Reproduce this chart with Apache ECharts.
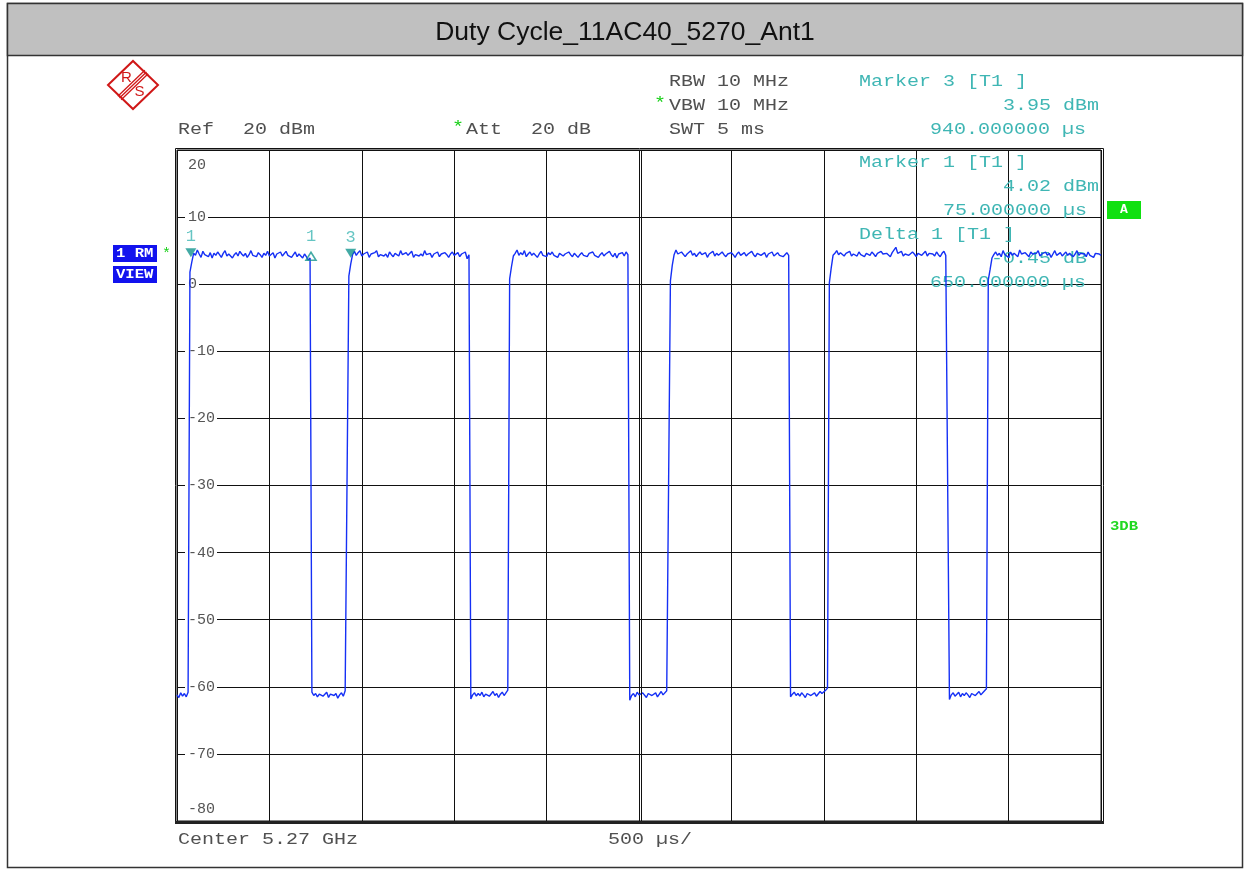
<!DOCTYPE html>
<html><head><meta charset="utf-8">
<script src="https://cdn.jsdelivr.net/npm/echarts@6/dist/echarts.min.js"></script>
<style>html,body{margin:0;padding:0;background:#fff;}#c{width:1245px;height:869px;}</style>
</head><body><div id="c"></div>
<script>
// ---------- data ----------
const TITLE = 'Duty Cycle_11AC40_5270_Ant1';
const STEP_US = 10;            // sweep 5 ms over 501 trace points
const xMin = 0, xMax = 5000, xStep = 500;
const yTicks = [20, 10, 0, -10, -20, -30, -40, -50, -60, -70, -80];
const yTickLabels = ['20', '10', '0', '-10', '-20', '-30', '-40', '-50', '-60', '-70', '-80'];

// trace segments (dBm), consecutive sweep points
const off0 = [-61.2, -61.6, -60.9, -61.4, -61.0, -61.5, -60.8];
const on1 = [1.8, 3.3, 4.6, 4.3, 5.1, 4.5, 4.0, 4.9, 4.4, 4.6,
  4.1, 4.7, 3.9, 4.6, 4.3, 4.8, 4.4, 4.0, 4.6, 5.0,
  4.2, 4.5, 4.3, 3.9, 4.4, 4.7, 4.2, 4.9, 4.5, 4.2,
  4.6, 4.0, 4.4, 5.0, 4.3, 4.5, 4.1, 4.7, 4.4, 4.0,
  4.6, 4.3, 4.9, 4.2, 4.4, 4.7, 3.9, 4.5, 4.3, 4.8,
  4.2, 4.4, 4.9, 4.3, 4.5, 4.0, 4.4, 4.8, 4.1, 4.5,
  4.3, 3.9, 4.5, 4.1, 3.6, 3.9];
const off1 = [-60.8, -61.3, -61.0, -61.5, -61.1, -60.9, -61.4, -61.2, -60.8, -61.6,
  -61.1, -60.9, -61.3, -61.0, -61.7, -61.2, -60.9, -61.4, -60.6, -60.4];
const on2 = [1.2, 3.0, 4.4, 4.9, 4.3, 4.7, 5.0, 4.2, 4.5, 4.4,
  4.8, 4.0, 4.5, 4.3, 4.7, 5.0, 4.1, 4.4, 4.6, 4.2,
  4.5, 4.0, 4.8, 4.4, 4.1, 4.6, 4.5, 4.2, 5.0, 4.4,
  4.2, 4.7, 4.3, 4.5, 4.9, 4.0, 4.4, 4.6, 4.2, 4.5,
  4.2, 5.0, 4.4, 4.3, 4.6, 4.0, 4.5, 4.4, 4.8, 4.1,
  4.5, 4.3, 4.7, 4.4, 4.0, 4.5, 4.8, 4.3, 4.4, 4.7,
  4.1, 4.5, 4.3, 4.8, 3.8, 4.4];
const off2 = [-61.8, -61.2, -60.9, -61.4, -61.0, -61.3, -60.8, -61.5, -61.1, -60.9,
  -61.4, -61.2, -60.7, -61.3, -61.0, -61.6, -61.1, -60.8, -61.3, -60.9, -60.5];
const on3 = [0.8, 2.6, 4.2, 4.6, 5.1, 4.3, 4.7, 4.4, 5.0, 4.1,
  4.5, 4.8, 4.3, 4.6, 4.4, 4.0, 4.5, 4.9, 4.3, 4.5,
  4.1, 4.7, 4.4, 4.8, 4.3, 4.5, 4.0, 4.6, 4.4, 4.2,
  4.5, 4.3, 4.8, 4.4, 4.1, 4.6, 4.5, 4.0, 4.4, 4.7,
  4.3, 4.5, 4.1, 4.6, 4.4, 4.8, 4.3, 4.5, 4.0, 4.4,
  4.7, 4.2, 4.5, 4.3, 4.9, 4.4, 4.1, 4.6, 3.9, 4.5,
  4.3, 4.7, 4.2, 4.8, 4.4];
const off3 = [-62.0, -61.3, -61.0, -61.5, -60.8, -61.2, -61.4, -60.9, -61.1, -61.6,
  -61.0, -60.8, -61.3, -61.2, -60.9, -61.5, -61.1, -60.7, -61.2, -61.0, -60.6, -60.8];
const on4 = [0.5, 2.8, 4.4, 5.1, 4.5, 4.3, 4.8, 4.6, 4.1, 4.5,
  4.4, 5.0, 4.3, 4.6, 4.1, 4.5, 4.8, 4.4, 4.3, 4.7,
  4.0, 4.5, 4.4, 4.9, 4.2, 4.6, 4.3, 4.5, 4.8, 4.4,
  4.1, 4.5, 4.3, 4.7, 4.4, 4.0, 4.5, 4.8, 4.3, 4.4,
  4.7, 4.2, 4.5, 4.3, 4.9, 4.4, 4.1, 4.6, 4.5, 4.3,
  4.4, 4.7, 4.0, 4.5, 4.3, 4.8, 4.2, 4.4, 4.7, 4.3,
  4.5, 4.1, 4.4, 4.7, 4.3];
const off4 = [-61.5, -61.1, -60.8, -61.3, -61.0, -61.4, -60.9, -61.2, -61.6, -61.0,
  -60.8, -61.3, -61.1, -60.9, -61.4, -61.2, -60.7, -61.0, -60.8, -60.5, -60.2];
const on5 = [0.2, 2.4, 4.3, 4.6, 5.0, 4.4, 4.7, 4.5, 4.2, 4.6,
  4.4, 4.9, 4.2, 4.5, 4.6, 4.2, 4.8, 4.4, 4.5, 4.1,
  4.6, 4.4, 4.3, 4.8, 4.5, 4.1, 4.6, 4.4, 4.9, 4.5,
  4.3, 4.6, 4.4, 4.1, 4.7, 4.5, 5.5, 4.6, 4.4, 4.9,
  4.2, 4.5, 4.7, 4.3, 4.4, 4.8, 4.5, 4.1, 4.6, 4.4,
  4.3, 4.5, 4.9, 4.2, 4.6, 4.4, 4.5, 4.2, 4.8, 4.4,
  4.1, 4.6, 4.9, 4.3, 4.5];
const off5 = [-61.9, -61.2, -60.9, -61.4, -61.1, -60.8, -61.5, -61.0, -61.3, -60.9,
  -61.2, -61.6, -61.0, -60.8, -61.3, -61.1, -60.7, -61.2, -60.9, -60.6, -60.3];
const on6 = [0.6, 2.2, 3.9, 4.4, 4.8, 4.3, 4.6, 4.1, 5.0, 4.4,
  4.5, 4.0, 4.8, 4.3, 4.6, 4.4, 4.1, 5.1, 4.5, 4.3,
  4.7, 4.4, 4.1, 4.8, 4.5, 4.3, 4.6, 5.0, 4.2, 4.5,
  4.4, 4.8, 4.3, 4.6, 4.0, 4.5, 5.0, 4.3, 4.4, 4.7,
  4.2, 4.5, 4.8, 4.3, 4.6, 4.4, 4.1, 4.5, 5.0, 4.3,
  4.6, 4.4, 4.5, 4.1, 4.8, 4.3, 4.5, 4.0, 4.6, 4.4,
  4.5, 4.3];

// markers
const markerNames = ['1', '3'];
const markerTimes = [75, 940];
const markerLevels = [4.02, 3.95];
const deltaName = '1';
const deltaTime = 725;     // 75 + 650 us
const deltaLevel = 3.57;   // 4.02 - 0.45 dB

// ---------- build ----------
const segments = [off0, on1, off1, on2, off2, on3, off3, on4, off4, on5, off5, on6];
const trace = [].concat(...segments).map((v, i) => [i * STEP_US, v]);

const MONO = '"Liberation Mono", "DejaVu Sans Mono", monospace';
const GREY = '#505050';
const TEAL = '#3fb6b4';
const TEAL_D = '#14958f';
const BLUE = '#1530f5';
const GRID = '#111111';

const chart = echarts.init(document.getElementById('c'), null, {renderer: 'canvas'});
chart.setOption({
  animation: false,
  backgroundColor: '#ffffff',
  grid: {left: 177, top: 150, width: 924, height: 671, show: true, borderColor: GRID, borderWidth: 1, backgroundColor: 'rgba(0,0,0,0)'},
  xAxis: {
    type: 'value', min: xMin, max: xMax, interval: xStep,
    axisLine: {show: false}, axisTick: {show: false}, axisLabel: {show: false},
    splitLine: {show: true, lineStyle: {color: GRID, width: 1}}
  },
  yAxis: {
    type: 'value', min: yTicks[yTicks.length - 1], max: yTicks[0], interval: 10,
    axisLine: {show: false}, axisTick: {show: false},
    splitLine: {show: true, lineStyle: {color: GRID, width: 1}},
    axisLabel: {
      inside: true, margin: 8, showMinLabel: true, showMaxLabel: true,
      fontFamily: MONO, fontSize: 15, color: '#555',
      formatter: function (v) {
        const i = yTicks.indexOf(v);
        if (i < 0) return '';
        const s = yTickLabels[i];
        if (i === 0) return '{t|' + s + '}';
        if (i === yTicks.length - 1) return '{b|' + s + '}';
        return '{m|' + s + '}';
      },
      rich: {
        t: {fontFamily: MONO, fontSize: 15, color: '#555', padding: [30, 0, 0, 3]},
        b: {fontFamily: MONO, fontSize: 15, color: '#555', padding: [0, 0, 24, 3]},
        m: {fontFamily: MONO, fontSize: 15, color: '#555', backgroundColor: '#ffffff', padding: [1, 2, 1, 3]}
      }
    }
  },
  series: [
    {
      type: 'line', data: trace, showSymbol: false, symbol: 'none', z: 3,
      lineStyle: {color: BLUE, width: 1.4}, sampling: null
    },
    {
      type: 'scatter', z: 4,
      data: markerNames.map((n, i) => ({name: n, value: [markerTimes[i], markerLevels[i]]})),
      symbol: 'triangle', symbolRotate: 180, symbolSize: [11, 9], symbolOffset: [0, -4.5],
      itemStyle: {color: TEAL_D},
      label: {show: true, position: 'top', distance: 3, formatter: '{b}', color: TEAL, fontFamily: MONO, fontSize: 17}
    },
    {
      type: 'scatter', z: 4,
      data: [{name: deltaName, value: [deltaTime, deltaLevel]}],
      symbol: 'triangle', symbolSize: [10, 8], symbolOffset: [0, -4],
      itemStyle: {color: 'rgba(255,255,255,0)', borderColor: TEAL_D, borderWidth: 1.6},
      label: {show: true, position: 'top', distance: 7, formatter: '{b}', color: TEAL, fontFamily: MONO, fontSize: 17}
    }
  ]
});

function txt(s, x, y, color, z, opt) {
  opt = opt || {};
  return {
    type: 'text', x: x, y: y, scaleX: opt.scaleX || 1.25, z: z || 5,
    style: {text: s, font: (opt.weight || 'normal') + ' ' + (opt.size || 16) + 'px ' + MONO, fill: color,
      textAlign: opt.align || 'left', textVerticalAlign: 'middle'}
  };
}

const cx = chart.convertToPixel({xAxisIndex: 0}, (xMin + xMax) / 2);
const g = [];
// outer page frame and title bar
g.push({type: 'rect', z: 0, shape: {x: 7.5, y: 3.5, width: 1235, height: 864}, style: {fill: 'none', stroke: '#333', lineWidth: 1.5}});
g.push({type: 'rect', z: 0, shape: {x: 7.5, y: 3.5, width: 1235, height: 52}, style: {fill: '#c0c0c0', stroke: '#333', lineWidth: 1.5}});
g.push({type: 'text', x: 625, y: 33, z: 5, style: {text: TITLE, font: '26.5px "Liberation Sans", Arial, sans-serif', fill: '#111', textAlign: 'center', textVerticalAlign: 'middle'}});
// plot double frame
g.push({type: 'rect', z: 6, shape: {x: 175.5, y: 148.5, width: 928, height: 674}, style: {fill: 'none', stroke: '#111', lineWidth: 1}});
g.push({type: 'line', z: 6, shape: {x1: 175, y1: 822.5, x2: 1104, y2: 822.5}, style: {stroke: '#222', lineWidth: 3}});
g.push({type: 'line', z: 6, shape: {x1: cx + 2.5, y1: 150, x2: cx + 2.5, y2: 821}, style: {stroke: GRID, lineWidth: 1}});
// R&S logo
g.push({type: 'polygon', z: 5, shape: {points: [[108, 85], [133, 61], [158, 85], [133, 109]]}, style: {fill: 'none', stroke: '#d01818', lineWidth: 2}});
[-2.4, 0, 2.4].forEach(function (d) {
  g.push({type: 'line', z: 5, shape: {x1: 119.5 + d * 0.69, y1: 98 + d * 0.72, x2: 146.5 + d * 0.69, y2: 72 + d * 0.72}, style: {stroke: '#d01818', lineWidth: 1.3}});
});
g.push({type: 'text', x: 126.5, y: 78, z: 5, style: {text: 'R', font: '15px "Liberation Sans", sans-serif', fill: '#d01818', textAlign: 'center', textVerticalAlign: 'middle'}});
g.push({type: 'text', x: 139.5, y: 92, z: 5, style: {text: 'S', font: '15px "Liberation Sans", sans-serif', fill: '#d01818', textAlign: 'center', textVerticalAlign: 'middle'}});
// header texts
g.push(txt('Ref', 178, 130, GREY));
g.push(txt('20 dBm', 243, 130, GREY));
g.push(txt('*', 452, 128, '#18d018'));
g.push(txt('Att', 466, 130, GREY));
g.push(txt('20 dB', 531, 130, GREY));
g.push(txt('RBW 10 MHz', 669, 82, GREY));
g.push(txt('*', 654, 104, '#18d018'));
g.push(txt('VBW 10 MHz', 669, 106, GREY));
g.push(txt('SWT 5 ms', 669, 130, GREY));
g.push(txt('Marker 3 [T1 ]', 859, 82, TEAL));
g.push(txt('3.95 dBm', 1003, 106, TEAL));
g.push(txt('940.000000 µs', 930, 130, TEAL));
// in-plot marker info (under the trace)
g.push(txt('Marker 1 [T1 ]', 859, 163, TEAL, 1));
g.push(txt('4.02 dBm', 1003, 187, TEAL, 1));
g.push(txt('75.000000 µs', 943, 211, TEAL, 1));
g.push(txt('Delta 1 [T1 ]', 859, 235, TEAL, 1));
g.push(txt('-0.45 dB', 991, 259, TEAL, 1));
g.push(txt('650.000000 µs', 930, 283, TEAL, 1));
// footer
g.push(txt('Center 5.27 GHz', 178, 840, GREY));
g.push(txt('500 µs/', 608, 840, GREY));
// side annotations
g.push({type: 'rect', z: 5, shape: {x: 113, y: 245, width: 44, height: 17}, style: {fill: '#1212ee'}});
g.push(txt('1 RM', 116, 254, '#ffffff', 6, {weight: 'bold', size: 13, scaleX: 1.2}));
g.push({type: 'rect', z: 5, shape: {x: 113, y: 266, width: 44, height: 17}, style: {fill: '#1212ee'}});
g.push(txt('VIEW', 116, 275, '#ffffff', 6, {weight: 'bold', size: 13, scaleX: 1.2}));
g.push(txt('*', 162, 254, '#18d018', 5, {size: 15, scaleX: 1}));
g.push({type: 'rect', z: 5, shape: {x: 1107, y: 201, width: 34, height: 18}, style: {fill: '#10e010'}});
g.push({type: 'text', x: 1124, y: 210, z: 6, style: {text: 'A', font: 'bold 13px ' + MONO, fill: '#ffffff', textAlign: 'center', textVerticalAlign: 'middle'}});
g.push(txt('3DB', 1110, 527, '#20d820', 5, {weight: 'bold', size: 13, scaleX: 1.2}));

chart.setOption({graphic: g});
</script>
</body></html>
